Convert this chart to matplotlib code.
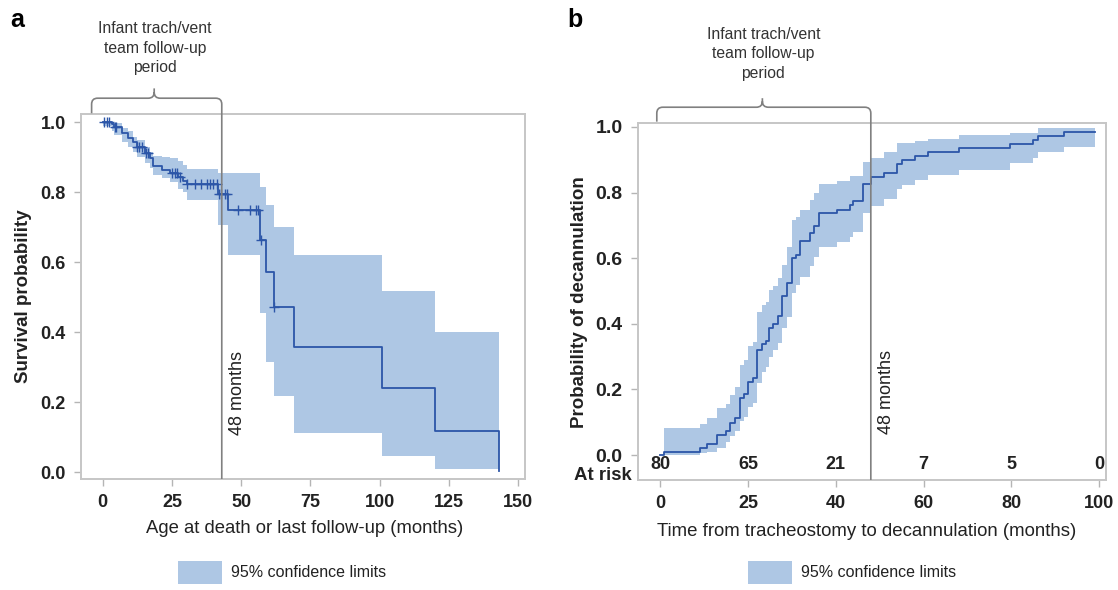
import numpy as np
import matplotlib.pyplot as plt
from matplotlib.path import Path
from matplotlib.patches import PathPatch, Patch

plt.rcParams['font.family'] = ['Liberation Sans', 'DejaVu Sans']

# ---- panel a: survival (Kaplan-Meier) ----
t_a = [0, 3.2, 4.1, 6.9, 9.3, 11.1, 12.3, 15.3, 17.1, 18.3, 21.3, 24.3, 27.3, 29.1,
       30.3, 41.7, 45.3, 56.8, 59.0, 61.8, 69.0, 100.9, 120.0, 143.1]
s_a = [1.0, 0.994, 0.987, 0.969, 0.954, 0.945, 0.930, 0.911, 0.897, 0.875, 0.864, 0.854,
       0.845, 0.832, 0.824, 0.794, 0.749, 0.664, 0.573, 0.473, 0.359, 0.240, 0.119, 0.005]
lo_a = [0.99, 0.975, 0.965, 0.945, 0.930, 0.916, 0.900, 0.885, 0.869, 0.850, 0.840, 0.830,
        0.810, 0.800, 0.778, 0.707, 0.621, 0.454, 0.316, 0.218, 0.111, 0.047, 0.009, 0.009]
hi_a = [1.0, 1.0, 0.998, 0.983, 0.975, 0.959, 0.950, 0.930, 0.916, 0.905, 0.900, 0.897,
        0.890, 0.878, 0.866, 0.856, 0.856, 0.816, 0.764, 0.700, 0.621, 0.519, 0.400, 0.400]
censor_a = [0.5, 1.4, 2.4, 4.4, 4.8, 12.5, 13.2, 14.1, 15.5, 16.5, 24.9, 26.1, 26.9, 27.9,
            30.5, 33.4, 35.6, 37.5, 38.7, 39.9, 41.2, 42.0, 42.8, 44.0, 45.0, 49.0, 53.2,
            55.3, 56.2, 57.0, 62.0]

# ---- panel b: cumulative decannulation ----
t_b = [0, 0.8, 9.1, 10.6, 12.9, 15.0, 16.0, 17.1, 18.2, 19.2, 20.1, 21.1, 22.0, 23.2,
       24.2, 24.9, 25.8, 26.8, 27.7, 28.9, 30.0, 31.0, 31.9, 34.1, 35.1, 36.1, 40.3,
       43.2, 44.0, 46.3, 48.0, 51.1, 54.0, 55.0, 58.0, 61.0, 68.0, 79.8, 84.9, 86.0,
       91.9, 99.1]
p_b = [0.0, 0.01, 0.022, 0.034, 0.061, 0.073, 0.098, 0.112, 0.173, 0.185, 0.224, 0.236,
       0.320, 0.338, 0.348, 0.386, 0.400, 0.425, 0.486, 0.523, 0.600, 0.610, 0.653, 0.676,
       0.698, 0.739, 0.747, 0.762, 0.774, 0.825, 0.847, 0.860, 0.886, 0.899, 0.912, 0.925,
       0.937, 0.947, 0.960, 0.973, 0.986, 0.986]
lo_b = [0.0, 0.0, 0.005, 0.010, 0.022, 0.040, 0.058, 0.073, 0.104, 0.115, 0.147, 0.159,
        0.219, 0.253, 0.268, 0.300, 0.320, 0.342, 0.386, 0.422, 0.493, 0.518, 0.544, 0.575,
        0.605, 0.635, 0.650, 0.666, 0.681, 0.737, 0.759, 0.780, 0.810, 0.823, 0.838, 0.854,
        0.869, 0.889, 0.905, 0.925, 0.940, 0.940]
hi_b = [0.0, 0.081, 0.094, 0.112, 0.144, 0.157, 0.183, 0.206, 0.274, 0.290, 0.332, 0.345,
        0.437, 0.457, 0.465, 0.503, 0.515, 0.539, 0.579, 0.635, 0.716, 0.726, 0.747, 0.777,
        0.798, 0.825, 0.836, 0.851, 0.851, 0.894, 0.905, 0.925, 0.950, 0.950, 0.958, 0.962,
        0.976, 0.980, 0.980, 0.996, 0.996, 0.996]
risk_t = [0, 20, 40, 60, 80, 100]
risk_n = [80, 65, 21, 7, 5, 0]
xticks_b = [0, 20, 40, 60, 80, 100]
xtick_labels_b = ['0', '25', '40', '60', '80', '100']

BAND = '#aec7e4'
LINE = '#2c56a8'
FRAME = '#c6c6c6'
DARK = '#222222'
GREY = '#808080'

W, H = 1118, 590
fig = plt.figure(figsize=(W / 100, H / 100), dpi=100)


def style(ax, ysize):
    for sp in ax.spines.values():
        sp.set_color(FRAME)
        sp.set_linewidth(1.4)
    ax.tick_params(direction='out', length=5, width=1, color='#b5b5b5',
                   labelsize=13, labelcolor=DARK, pad=6)
    ax.tick_params(axis='y', labelsize=ysize)
    for lab in ax.get_xticklabels() + ax.get_yticklabels():
        lab.set_fontweight('bold')


def brace(ax, x0, x1, xc, y_left, y_right, ybar, ytip, rx, ry):
    verts = [(x0, y_left), (x0, ybar - ry), (x0, ybar), (x0 + rx, ybar),
             (xc - rx, ybar), (xc, ybar), (xc, ybar + ry), (xc, ytip),
             (x1, y_right), (x1, ybar - ry), (x1, ybar), (x1 - rx, ybar),
             (xc + rx, ybar), (xc, ybar), (xc, ybar + ry)]
    codes = [Path.MOVETO, Path.LINETO, Path.CURVE3, Path.CURVE3,
             Path.LINETO, Path.CURVE3, Path.CURVE3, Path.LINETO,
             Path.MOVETO, Path.LINETO, Path.CURVE3, Path.CURVE3,
             Path.LINETO, Path.CURVE3, Path.CURVE3]
    ax.add_patch(PathPatch(Path(verts, codes), fill=False, edgecolor=GREY,
                           lw=1.2, clip_on=False, zorder=5))


NOTE = 'Infant trach/vent\nteam follow-up\nperiod'

# ================= panel a =================
axa = fig.add_axes([81 / W, 1 - 479 / H, 444 / W, 364.7 / H])
axa.set_xlim(-7.83, 152.5)
axa.set_ylim(-0.019, 1.023)
axa.fill_between(t_a, lo_a, hi_a, step='post', color=BAND, lw=0)
axa.step(t_a, s_a, where='post', color=LINE, lw=1.3)
s_arr = np.array(s_a)
cens_s = [s_arr[np.searchsorted(t_a, c, side='right') - 1] for c in censor_a]
axa.plot(censor_a, cens_s, ls='none', marker='+', ms=7, mew=1, color=LINE)
axa.set_xticks([0, 25, 50, 75, 100, 125, 150])
axa.set_yticks([0.0, 0.2, 0.4, 0.6, 0.8, 1.0])
axa.yaxis.set_major_formatter(plt.FormatStrFormatter('%.1f'))
style(axa, 13)
axa.set_xlabel('Age at death or last follow-up (months)', fontsize=13.3, color=DARK)
axa.xaxis.set_label_coords(0.504, -0.113)
axa.set_ylabel('Survival probability', fontsize=13.5, fontweight='bold', color=DARK)
axa.yaxis.set_label_coords(-0.11, 0.5)

sx_a = 160.33 / 444
sy_a = 1.042 / 364.7
brace(axa, -4.0, 43.0, 18.6, 1.026, -0.019, 1.069, 1.097, 6 * sx_a, 6 * sy_a)
axa.text(18.9, 1.212, NOTE, ha='center', va='center',
         fontsize=11.3, color='#333333', linespacing=1.35, clip_on=False)
axa.text(48.8, 0.227, '48 months', rotation=90, ha='center', va='center',
         fontsize=13, color=DARK)
fig.text(17 / W, 1 - 20 / H, 'a', fontsize=18, fontweight='bold', ha='center', va='center')

# ================= panel b =================
axb = fig.add_axes([637.7 / W, 1 - 480 / H, 468 / W, 356.7 / H])
axb.set_xlim(-5.1, 101.5)
axb.set_ylim(-0.076, 1.011)
axb.fill_between(t_b, lo_b, hi_b, step='post', color=BAND, lw=0)
axb.step(t_b, p_b, where='post', color=LINE, lw=1.3)
axb.set_xticks(xticks_b, labels=xtick_labels_b)
axb.set_yticks([0.0, 0.2, 0.4, 0.6, 0.8, 1.0])
axb.yaxis.set_major_formatter(plt.FormatStrFormatter('%.1f'))
style(axb, 14)
axb.set_xlabel('Time from tracheostomy to decannulation (months)', fontsize=13.4, color=DARK)
axb.xaxis.set_label_coords(0.49, -0.12)
axb.set_ylabel('Probability of decannulation', fontsize=13.5, fontweight='bold', color=DARK)
axb.yaxis.set_label_coords(-0.106, 0.5)
for t, n in zip(risk_t, risk_n):
    axb.text(t, -0.03, str(n), ha='center', va='center', fontsize=13,
             fontweight='bold', color=DARK)
axb.text(-6.4, -0.061, 'At risk', ha='right', va='center', fontsize=13.4,
         fontweight='bold', color=DARK, clip_on=False)

sx_b = 106.6 / 468
sy_b = 1.087 / 356.7
brace(axb, -0.75, 48.0, 23.3, 1.016, -0.076, 1.060, 1.0875, 6 * sx_b, 6 * sy_b)
axb.text(23.5, 1.2226, NOTE, ha='center', va='center',
         fontsize=11.3, color='#333333', linespacing=1.35, clip_on=False)
axb.text(51.6, 0.192, '48 months', rotation=90, ha='center', va='center',
         fontsize=13, color=DARK)
fig.text(575 / W, 1 - 20 / H, 'b', fontsize=18, fontweight='bold', ha='center', va='center')

# ---- legends ----
for x_left in (178, 748):
    fig.legend(handles=[Patch(facecolor=BAND, edgecolor='none')],
               labels=['95% confidence limits'], loc='upper left',
               bbox_to_anchor=(x_left / W, 1 - 561 / H), frameon=False,
               fontsize=11.5, handlelength=2.75, handleheight=1.8,
               handletextpad=0.55, borderpad=0, borderaxespad=0, labelcolor=DARK)

fig.savefig('out.png', dpi=100)
